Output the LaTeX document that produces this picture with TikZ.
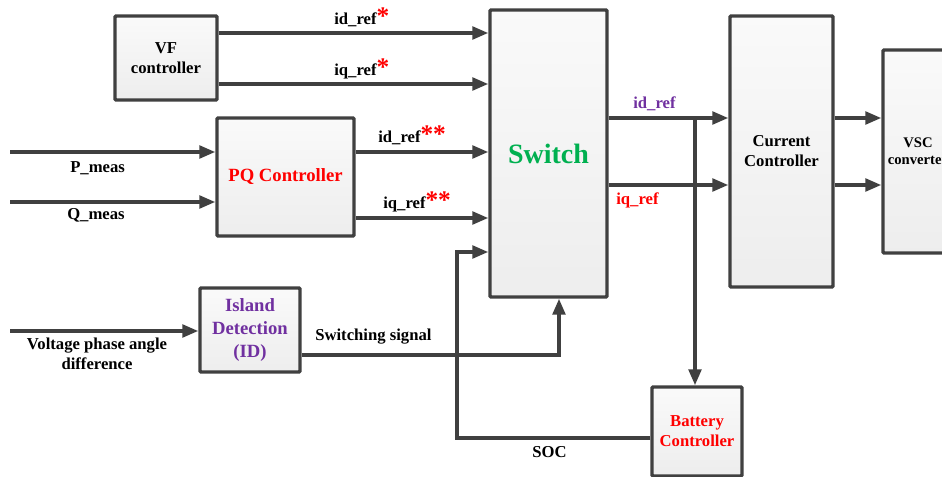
\documentclass[tikz,border=0pt]{standalone}
\usepackage{fontspec}
\setmainfont{Liberation Serif}
\usetikzlibrary{arrows.meta}
\definecolor{ln}{HTML}{404040}
\definecolor{myred}{HTML}{FF0000}
\definecolor{mypurple}{HTML}{7030A0}
\definecolor{mygreen}{HTML}{00B050}
\tikzset{
  blk/.style={draw=ln, line width=2.6pt, top color=gray!4, bottom color=gray!14, rounded corners=0.8pt, align=center, inner sep=0pt, font=\fontsize{12.5}{15}\selectfont\bfseries},
  wire/.style={draw=ln, line width=2.6pt},
  arr/.style={wire, -{Triangle[length=12pt,width=9.5pt]}},
  lbl/.style={font=\fontsize{12.5}{15}\selectfont\bfseries, inner sep=0pt, anchor=base west},
}
\newcommand{\myast}{\textcolor{myred}{\fontsize{19}{19}\selectfont *}}
\newcommand{\myastt}{\textcolor{myred}{\fontsize{19}{19}\selectfont **}}
\begin{document}
\begin{tikzpicture}[x=0.75pt,y=-0.75pt]
\useasboundingbox (0,0) rectangle (942,477);
\clip (0,0) rectangle (942,477);
\fill[white] (0,0) rectangle (942,477);
% boxes
\node[blk, minimum width={102*0.75pt}, minimum height={84*0.75pt}] (VF) at (166,58) {VF\\controller};
\node[blk, minimum width={137*0.75pt}, minimum height={118*0.75pt}, font=\fontsize{14}{16}\selectfont\bfseries, text=myred] (PQ) at (285.5,177) {PQ Controller};
\node[blk, minimum width={117*0.75pt}, minimum height={287*0.75pt}, font=\fontsize{21}{24}\selectfont\bfseries, text=mygreen] (SW) at (548.5,153.5) {Switch};
\node[blk, minimum width={100*0.75pt}, minimum height={84*0.75pt}, font=\fontsize{14}{17}\selectfont\bfseries, text=mypurple] (ID) at (250,330) {Island\\Detection\\(ID)};
\node[blk, minimum width={103*0.75pt}, minimum height={271*0.75pt}] (CC) at (781.5,151.5) {Current\\Controller};
\node[blk, minimum width={70*0.75pt}, minimum height={203*0.75pt}, font=\fontsize{11}{13}\selectfont\bfseries] (VSC) at (918,151.5) {VSC\\converter};
\node[blk, minimum width={90*0.75pt}, minimum height={89*0.75pt}, text=myred] (BAT) at (697,431.5) {Battery\\Controller};
% levels
\coordinate (y33) at (0,33);
\coordinate (y84) at (0,84);
\coordinate (y152) at (0,152);
\coordinate (y202) at (0,202);
\coordinate (y218) at (0,218);
\coordinate (y252) at (0,252);
\coordinate (y331) at (0,331);
\coordinate (y355) at (0,355);
\coordinate (y118) at (0,118);
\coordinate (y185) at (0,185);
\coordinate (y438) at (0,438);
\coordinate (pin) at (10,152);
\coordinate (qin) at (10,202);
\coordinate (vin) at (10,331);
\coordinate (socx) at (457,438);
\coordinate (socy) at (457,252);
\coordinate (ssx) at (559,355);
\coordinate (bj) at (695,118);
% connectors
\draw[arr] (VF.east |- y33) -- (SW.west |- y33);
\draw[arr] (VF.east |- y84) -- (SW.west |- y84);
\draw[arr] (pin) -- (PQ.west |- pin);
\draw[arr] (qin) -- (PQ.west |- qin);
\draw[arr] (PQ.east |- y152) -- (SW.west |- y152);
\draw[arr] (PQ.east |- y218) -- (SW.west |- y218);
\draw[arr] (vin) -- (ID.west |- vin);
\draw[arr] (ID.east |- y355) -- (ssx) -- (SW.south -| ssx);
\draw[arr, line join=miter] (BAT.west |- y438) -- (socx) -- (socy) -- (SW.west |- socy);
\draw[arr] (SW.east |- y118) -- (CC.west |- y118);
\draw[arr] (SW.east |- y185) -- (CC.west |- y185);
\draw[arr] (bj) -- (BAT.north -| bj);
\draw[arr] (CC.east |- y118) -- (VSC.west |- y118);
\draw[arr] (CC.east |- y185) -- (VSC.west |- y185);
% labels
\node[lbl] (l1) at (334,25) {id\_ref\myast};
\node[lbl] (l2) at (334,76) {iq\_ref\myast};
\node[lbl] (l3) at (378,143) {id\_ref\myastt};
\node[lbl] (l4) at (383,209) {iq\_ref\myastt};
\node[lbl] (l5) at (70,173) {P\_meas};
\node[lbl] (l6) at (67,220) {Q\_meas};
\node[lbl, anchor=base, align=center, font=\fontsize{12.5}{14.3}\selectfont\bfseries] (l7) at (97,369) {Voltage phase angle\\difference};
\node[lbl] (l8) at (315,340) {Switching signal};
\node[lbl] (l9) at (532,457) {SOC};
\node[lbl, text=mypurple] (l10) at (633,109) {id\_ref};
\node[lbl, text=myred] (l11) at (616,205) {iq\_ref};
\end{tikzpicture}
\end{document}
